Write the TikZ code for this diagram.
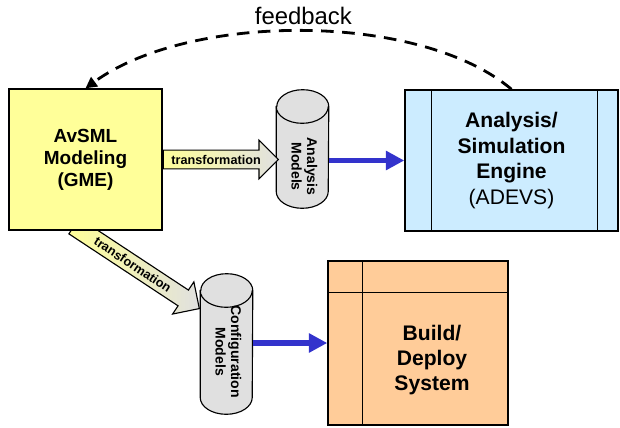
\documentclass[tikz,border=0pt]{standalone}
\usepackage{fontspec}
\setmainfont{Liberation Sans}
\usetikzlibrary{arrows.meta,shapes.arrows,backgrounds,calc}
\definecolor{gmeyellow}{RGB}{255,255,153}
\definecolor{engblue}{RGB}{204,236,255}
\definecolor{bldorange}{RGB}{255,204,153}
\definecolor{dbgray}{RGB}{224,224,224}
\definecolor{flowblue}{RGB}{51,51,204}
\newcommand{\sidetext}[2][0pt]{\rotatebox{-90}{\hspace*{#1}\begin{tabular}{@{}c@{}}#2\end{tabular}}}

\begin{document}
\begin{tikzpicture}[x=0.025cm,y=-0.025cm,
box/.style={draw,line width=1pt,inner sep=0pt,align=center},
db/.style={minimum width=1.3cm,inner sep=0pt,font=\fontsize{10}{11}\selectfont\bfseries},
dbline/.style={draw,line width=0.8pt,fill=dbgray},
xform/.style={single arrow,draw,line width=0.8pt,left color=gmeyellow,right color=dbgray,
  single arrow head extend=7pt,inner ysep=3pt,inner xsep=2pt,font=\fontsize{9}{10}\selectfont\bfseries},
flow/.style={flowblue,line width=4pt,-{Triangle[length=13pt,width=13pt]}},
fb/.style={line width=2pt,dash pattern=on 9pt off 6pt,-{Triangle[length=8pt,width=8pt]}}]
\useasboundingbox (0,0) rectangle (620,428);
\node[box,fill=gmeyellow,minimum width=3.825cm,minimum height=3.525cm,
  font=\fontsize{13.5}{15.6}\selectfont\bfseries] (gme) at (85.5,159.5) {AvSML\\Modeling\\(GME)};
\node[db,minimum height=2.95cm] (anmod) at (302.5,149) {\sidetext[25pt]{Analysis\\Models}};
\node[db,minimum height=3.5cm] (cfg) at (226.5,344) {\sidetext[11pt]{Configuration\\Models}};
\node[box,fill=engblue,minimum width=5.325cm,minimum height=3.525cm,
  font=\fontsize{15}{18.3}\selectfont\bfseries] (eng) at (511.5,160.5) {Analysis/\\Simulation\\Engine\\\mdseries(ADEVS)};
\node[box,fill=bldorange,minimum width=4.5cm,minimum height=4.1cm] (bld) at (418,343) {};
\draw[line width=1pt] ($(eng.north west)+(27,0)$) -- ($(eng.south west)+(27,0)$);
\draw[line width=1pt] ($(eng.north east)+(-21,0)$) -- ($(eng.south east)+(-21,0)$);
\draw[line width=1pt] ($(bld.north west)+(35,0)$) -- ($(bld.south west)+(35,0)$);
\draw[line width=1pt] ($(bld.north west)+(0,32)$) -- ($(bld.north east)+(0,32)$);
\node[align=center,font=\fontsize{15}{17.8}\selectfont\bfseries] (bldtxt) at (432,360) {Build/\\Deploy\\System};
\node[xform,anchor=tail,minimum height=2.875cm] (tr1) at (gme.east) {transformation};
\begin{scope}[on background layer]
\node[xform,rotate=-33.4,anchor=tip,minimum height=3.75cm] (tr2) at (200,309) {transformation};
\foreach \c in {anmod,cfg}{
  \draw[dbline] ([yshift=-0.42cm]\c.north west) -- ([yshift=0.42cm]\c.south west)
    arc[start angle=180,end angle=360,x radius=0.65cm,y radius=0.42cm]
    -- ([yshift=-0.42cm]\c.north east)
    arc[start angle=0,end angle=180,x radius=0.65cm,y radius=0.42cm] -- cycle;
  \draw[line width=0.8pt] ([yshift=-0.42cm]\c.north west)
    arc[start angle=180,end angle=360,x radius=0.65cm,y radius=0.42cm];
}
\end{scope}
\draw[flow] (anmod.east |- eng.west) -- (eng.west);
\draw[flow] (cfg.east |- bld.west) -- (bld.west);
\draw[fb] (eng.north) .. controls (420,12) and (190,12) .. node[above,font=\fontsize{17}{20}\selectfont] {feedback} (gme.north);
\end{tikzpicture}
\end{document}
